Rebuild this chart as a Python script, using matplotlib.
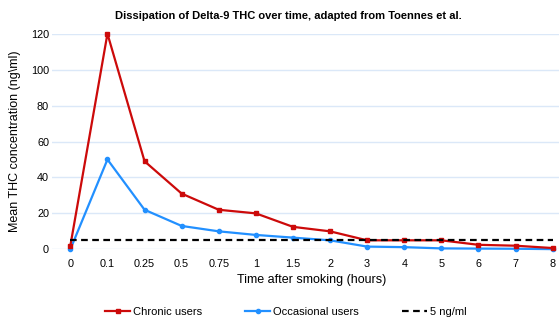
import matplotlib
matplotlib.use("Agg")
import matplotlib.pyplot as plt
from matplotlib.lines import Line2D

plt.rcParams["font.family"] = ["Liberation Sans", "DejaVu Sans"]

# Time points after smoking (hours), shown as evenly spaced categories
hours = ["0", "0.1", "0.25", "0.5", "0.75", "1", "1.5", "2", "3", "4", "5", "6", "7", "8"]
chronic = [2, 120, 49, 31, 22, 20, 12.5, 10, 5, 5, 5, 2.5, 2, 0.7]
occasional = [0, 50, 22, 13, 10, 8, 6.5, 5, 1.5, 1.2, 0.5, 0.4, 0.3, 0.1]
threshold = 5
yticks = [0, 20, 40, 60, 80, 100, 120]

W, H = 559, 320
fig = plt.figure(figsize=(W / 100, H / 100), dpi=100)

step = 37.1
left_px, bottom_px = 51.8, 70.7
ax = fig.add_axes([left_px / W, bottom_px / H, len(hours) * step / W, 215.6 / H])

x = list(range(len(hours)))
red = "#cc0a0a"
blue = "#2290ff"

ax.plot(x, chronic, color=red, lw=1.6, marker="s", ms=3.2, clip_on=False, zorder=4)
ax.plot(x, occasional, color=blue, lw=1.6, marker="o", ms=3, clip_on=False, zorder=3)
ax.plot(x, [threshold] * len(x), color="black", lw=1.6, ls=(0, (3, 2)), zorder=5)

ax.set_xlim(-0.5, len(hours) - 0.5)
ax.set_ylim(0, 120)
ax.set_xticks(x)
ax.set_xticklabels(hours)
ax.set_yticks(yticks)
ax.tick_params(axis="both", length=0, labelsize=7.8, colors="black")
ax.tick_params(axis="x", pad=7)
ax.tick_params(axis="y", pad=2)
ax.grid(axis="y", color="#dbe8f8", lw=1)
ax.set_axisbelow(True)
for s in ax.spines.values():
    s.set_visible(False)

ax.set_ylabel("Mean THC concentration (ng\\ml)", fontsize=9, labelpad=7)
fig.text(288 / W, 1 - 16 / H, "Dissipation of Delta-9 THC over time, adapted from Toennes et al.",
         ha="center", va="center", fontsize=8, fontweight="bold")
fig.text(312 / W, 1 - 280 / H, "Time after smoking (hours)", ha="center", va="center", fontsize=9)

handles = [
    Line2D([], [], color=red, lw=1.6, marker="s", ms=3.2),
    Line2D([], [], color=blue, lw=1.6, marker="o", ms=3),
    Line2D([], [], color="black", lw=1.6, ls=(0, (3, 2))),
]
fig.legend(handles, ["Chronic users", "Occasional users", "5 ng/ml"],
           loc="center", bbox_to_anchor=(286 / W, 1 - 312 / H), ncol=3, frameon=False,
           fontsize=8, handlelength=2.25, handletextpad=0.25, columnspacing=3.9)

fig.savefig("out.png", dpi=100)
